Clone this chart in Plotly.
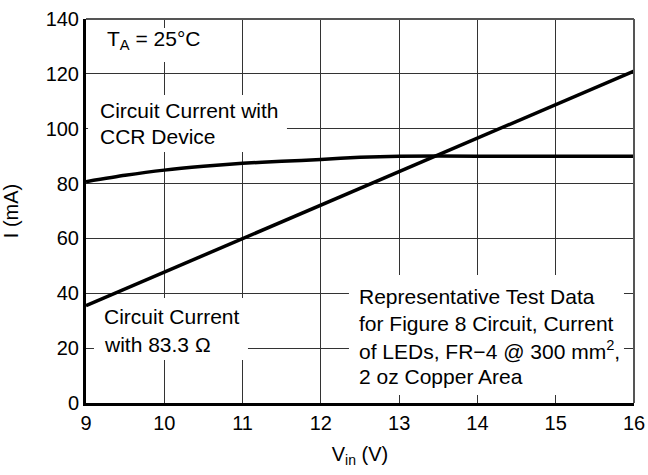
import plotly.graph_objects as go

# Data
vin_ccr = [9, 9.5, 10, 10.5, 11, 11.5, 12, 12.5, 13, 14, 15, 16]
i_ccr = [80.7, 83.0, 84.9, 86.3, 87.4, 88.1, 88.8, 89.6, 90.0, 90.0, 90.0, 90.0]
vin_res = [9, 16]
i_res = [35.5, 121.0]

x_ticks = [9, 10, 11, 12, 13, 14, 15, 16]
y_ticks = [0, 20, 40, 60, 80, 100, 120, 140]

FONT = "Liberation Sans, Arial, sans-serif"

fig = go.Figure()
fig.add_trace(go.Scatter(x=vin_ccr, y=i_ccr, mode="lines",
                         line=dict(color="black", width=3.5, shape="spline", smoothing=0.6),
                         showlegend=False, hoverinfo="skip"))
fig.add_trace(go.Scatter(x=vin_res, y=i_res, mode="lines",
                         line=dict(color="black", width=3.5),
                         showlegend=False, hoverinfo="skip"))

# white boxes breaking the gridlines (between grid and traces)
boxes = [
    (9.179, 10.456, 124.3, 136.7),
    (9.026, 11.567, 91.5, 112.3),
    (9.102, 11.069, 15.7, 38.3),
    (12.359, 15.872, 2.9, 46.7),
]
shapes = []
for x0, x1, y0, y1 in boxes:
    shapes.append(dict(type="rect", xref="x", yref="y", x0=x0, x1=x1, y0=y0, y1=y1,
                       fillcolor="white", line=dict(width=0), layer="between"))
# top and right borders (gray)
shapes.append(dict(type="line", xref="paper", yref="paper", x0=0, x1=1, y0=1, y1=1,
                   line=dict(color="#555555", width=2)))
shapes.append(dict(type="line", xref="paper", yref="paper", x0=1, x1=1, y0=0, y1=1,
                   line=dict(color="#555555", width=2)))

texts = [
    (9.24, 132.3, "T<sub>A</sub> = 25°C"),
    (9.15, 106.8, "Circuit Current with"),
    (9.15, 97.1, "CCR Device"),
    (9.20, 31.5, "Circuit Current"),
    (9.20, 21.5, "with 83.3 Ω"),
    (12.46, 38.8, "Representative Test Data"),
    (12.46, 29.0, "for Figure 8 Circuit, Current"),
    (12.46, 19.3, "of LEDs, FR−4 @ 300 mm<sup>2</sup>,"),
    (12.46, 9.6, "2 oz Copper Area"),
]
annotations = [dict(x=x, y=y, xref="x", yref="y", text=t, showarrow=False,
                    xanchor="left", yanchor="middle",
                    font=dict(family=FONT, size=21, color="black"))
               for x, y, t in texts]

fig.update_layout(
    width=648, height=475,
    margin=dict(l=86, r=14, t=19, b=72, autoexpand=False),
    paper_bgcolor="white", plot_bgcolor="white",
    font=dict(family=FONT, size=20, color="black"),
    shapes=shapes, annotations=annotations,
    xaxis=dict(range=[9, 16], tickvals=x_ticks, ticktext=[str(v) for v in x_ticks],
               showgrid=True, gridcolor="#333333", gridwidth=1.2,
               showline=True, linecolor="black", linewidth=3,
               ticks="", zeroline=False, automargin=False,
               title=dict(text="V<sub>in</sub> (V)", font=dict(size=20), standoff=14)),
    yaxis=dict(range=[0, 140], tickvals=y_ticks, ticktext=[str(v) for v in y_ticks],
               showgrid=True, gridcolor="#333333", gridwidth=1.2,
               showline=True, linecolor="black", linewidth=3,
               ticks="", zeroline=False, automargin=False,
               title=dict(text="I (mA)", font=dict(size=20), standoff=22)),
)

fig.write_html("out.html", config={"displayModeBar": False},
               post_script="document.body.style.margin='0';document.body.style.padding='0';")
